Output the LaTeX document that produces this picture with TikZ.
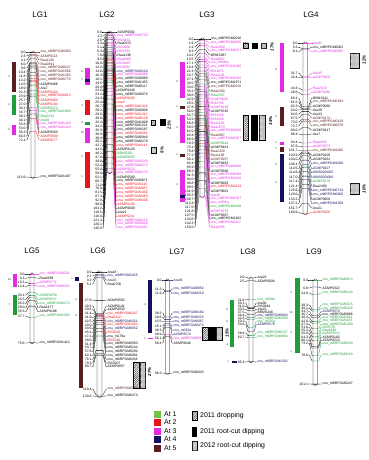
\documentclass[tikz,border=0pt]{standalone}
\usepackage{fontspec}
\setmainfont{Liberation Sans}
\usetikzlibrary{patterns.meta}

\definecolor{atone}{HTML}{1E9E3A}
\definecolor{atonel}{HTML}{77C043}
\definecolor{attwo}{HTML}{E8141B}
\definecolor{atthree}{HTML}{E22AE2}
\definecolor{atfour}{HTML}{12125E}
\definecolor{atfive}{HTML}{5A1E1E}
\colorlet{a1}{atone}
\colorlet{a2}{attwo}
\colorlet{a3}{atthree}
\colorlet{a4}{atfour}
\colorlet{a5}{atfive}
\colorlet{k}{black}

\newcommand\cnb{cnu\_mBRPGM}
\newcommand\cnm{cnu\_m}

\tikzset{
  mk/.style={font=\fontsize{3.4}{3.4}\selectfont, inner sep=0pt, anchor=west},
  cmpos/.style={font=\fontsize{3.4}{3.4}\selectfont, inner sep=0pt, anchor=east},
  fan/.style={line width=0.28pt},
  chrom/.style={draw, fill=white, line width=0.35pt, rounded corners=1.5pt},
  lgtitle/.style={font=\fontsize{8}{8}\selectfont},
  qnum/.style={font=\fontsize{2.6}{2.6}\selectfont, inner sep=0pt},
  qlab/.style={font=\fontsize{4.4}{4.4}\selectfont\bfseries\itshape, inner sep=0pt, rotate=90},
  leg/.style={font=\fontsize{6.9}{6.9}\selectfont, inner sep=0pt, anchor=west},
  hatchbox/.style={draw, line width=0.3pt, pattern={Lines[angle=45,distance=1.5pt,line width=0.35pt]}},
  solidbox/.style={draw, line width=0.3pt, fill=black},
  dotbox/.style={draw, line width=0.3pt, fill=gray!55, postaction={pattern={Dots[distance=1.2pt,radius=0.28pt]}, pattern color=white}}
}

% bar left, bar width, top, px per cM, fan width
\newcommand\lgsetup[5]{\gdef\bx{#1}\gdef\bw{#2}\gdef\btop{#3}\gdef\bsc{#4}\gdef\bfan{#5}}
\newcommand\chrombar[1]{\draw[chrom] (\bx,\btop-1) rectangle ++(\bw,#1*\bsc+2);}
\newcounter{mk}
% first label y, label step, list pos/name/colour
\newcommand\markers[3]{%
  \foreach \p/\m/\c [count=\i from 0] in {#3}{%
    \stepcounter{mk}%
    \pgfmathsetmacro\ty{\btop+\p*\bsc}%
    \pgfmathsetmacro\ly{#1+\i*#2}%
    \node[mk,text=\c] (m\themk) at ({\bx+\bw+\bfan+0.3},\ly) {\m};
    \node[cmpos] (p\themk) at ({\bx-\bfan-0.3},\ly) {\p};
    \draw[fan,color=\c] (\bx,\ty) -- ++(\bw,0) -- ++(1,0) -- ({\bx+\bw+\bfan-1},\ly) -- (m\themk.west);
    \draw[fan] (\bx,\ty) -- ++(-1,0) -- ({\bx-\bfan+1},\ly) -- (p\themk.east);
  }}

\begin{document}
\begin{tikzpicture}[x=1pt,y=-1pt]
\useasboundingbox (0,0) rectangle (368,460);

% titles
\node[lgtitle] (t1) at (40,15) {LG1};
\node[lgtitle] (t2) at (107,15) {LG2};
\node[lgtitle] (t3) at (207,15) {LG3};
\node[lgtitle] (t4) at (311,15) {LG4};
\node[lgtitle] (t5) at (32,251) {LG5};
\node[lgtitle] (t6) at (98,251) {LG6};
\node[lgtitle] (t7) at (177,252) {LG7};
\node[lgtitle] (t8) at (248,252) {LG8};
\node[lgtitle] (t9) at (314,252) {LG9};

% LG1
\lgsetup{31}{4}{52}{1.1}{5}
\chrombar{113.9}
\markers{52}{4}{0.0/\cnb0360/a5, 2.3/ACMP0113/a5, 3.1/Raa1136/a5, 6.0/Raa0691/a5, 9.6/\cnb0247/a5, 10.4/\cnb1566/a5, 11.8/\cnb1283/a5, 13.2/\cnb0770/a5, 14.5/ACMP0466/k, 18.9/Ara7/k, 21.3/ACMP0163/a2, 23.9/\cnb0613/a2, 25.7/ACMP0460/a2, 27.0/ACMP0184/a2, 30.1/ACMP0474/a1, 34.7/\cnb1069/a1, 38.2/Raa0222/a1, 40.1/Ara91/a1, 50.3/\cnb1423/a3, 53.0/\cnb1224/a3, 56.3/ACMP0563/k, 60.3/ACMP0589/a2, 72.1/ACMP0277/a2}
\markers{177}{4}{113.9/\cnb1487/k}
\fill[atfive] (12,62) rectangle (16,92);
\fill[atone] (12,95) rectangle (16,115);
\fill[atthree] (12,125) rectangle (16,135);
\node[qnum] (n11) at (9,77) {4};
\node[qnum] (n12) at (9,105) {2};
\node[qnum] (n13) at (9,130) {6};

% LG2
\lgsetup{107.5}{4.5}{32}{1.08}{5}
\chrombar{130.0}
\markers{32}{3.92}{0.0/ACMP0582/k, 1.2/\cnb0700/a3, 2.5/RI33451/a3, 3.3/Raa0972/k, 5.1/RI33460/a3, 6.4/RI32782/a3, 7.0/Raa1136/k, 9.5/Raa0905/a3, 10.8/RI33445/a3, 12.2/RI33562/a3, 14.6/\cnb0120/a4, 16.3/\cnb0086/a3, 18.1/\cnb0990/k, 19.5/\cnb1455/k, 20.4/\cnb0117/k, 22.0/ACMP0449/k, 23.1/\cnb0076/k, 24.3/ACMP0190/a2, 25.4/Ara2/a2, 26.7/\cnb1342/a2, 28.2/\cnb0006/k, 29.0/\cnb1211/a2, 30.8/\cnb0129/a2, 32.4/\cnb1008/k, 34.2/\cnb1221/k, 35.3/\cnb0187/k, 36.9/\cnb0561/a2, 38.4/\cnb0940/k, 40.1/\cnb0278/k, 42.7/\cnb1143/a2, 44.5/ACMP0120/k, 46.2/BRMS201/a1, 47.0/ACMP0603/a1, 49.8/\cnb0243/a3, 52.4/\cnb0275/a3, 55.0/ACMP0513/a3, 58.6/\cnb0173/a3, 62.1/ACMP0580/k, 66.7/\cnb0871/k, 71.2/\cnb1115/a2, 76.0/\cnb0057/a2, 81.5/\cnb1030/a2, 87.3/\cnb0360/a2, 92.8/\cnb0306/a2, 98.6/ACMP0100/a2, 104.2/ACMP0609/k, 110.5/Ara21/k, 116.0/ACMP0211/a2, 121.3/\cnb0132/a3, 126.1/\cnb0016/a3, 130.0/\cnb1183/a3}
\fill[atthree] (85,68) rectangle (90,85);
\fill[atfour] (85,79) rectangle (90,82);
\fill[attwo] (85,100) rectangle (90,115);
\fill[atone] (85,122) rectangle (90,125);
\fill[atthree] (85,128) rectangle (90,143);
\fill[attwo] (85,152) rectangle (90,188);
\node[qnum] (n21) at (82,72) {5};
\node[qnum] (n22) at (82,80) {1};
\node[qnum] (n23) at (82,106) {3};
\node[qnum] (n24) at (82,123) {4};
\node[qnum] (n25) at (82,133) {10};
\node[qnum] (n26) at (82,157) {2};
\node[qnum] (n27) at (82,177) {1};
\draw[hatchbox] (151.5,120) rectangle (155.5,125.5);
\draw[solidbox] (160,119.5) rectangle (165,125.5);
\node[qlab] (q21) at (169,125) {21\%};
\draw[dotbox] (151.5,147) rectangle (156,153);
\node[qlab] (q22) at (162,150) {9\%};

% LG3
\lgsetup{200}{4.5}{39}{1.05}{6}
\chrombar{150.0}
\markers{39}{4}{0.0/\cnb0016/k, 1.6/\cnb0025/a3, 4.1/Raa1060/a3, 6.3/\cnb1027/a3, 10.2/BRMS087/k, 13.5/Raa0807/a3, 17.1/\cnm046a/a3, 19.4/\cnb1286/a3, 21.3/RI33075/a3, 24.7/Raa1145/a3, 27.1/\cnb1032/a3, 30.5/\cnb1971/k, 33.0/\cnb0318/a5, 35.2/Raa2260/a5, 38.6/Raa2207/a1, 42.9/ACMP0005/a3, 45.5/RI32765/a3, 47.8/ACMP0229/a3, 50.0/ACMP0745/k, 52.7/RI33150/a3, 54.2/RI33208/a3, 56.8/Raa1185/a3, 59.5/Raa2670/a3, 62.0/\cnb0106/a3, 64.4/Raa0067/a5, 66.9/\cnb0307/a3, 70.3/ACMP0644/a1, 73.1/ACMP0461/k, 75.8/Raa2429/a5, 77.2/Raa1188/a5, 80.1/ACMP0257/a5, 82.4/ACMP0463/k, 85.9/\cnb0400/a3, 88.2/ACMP0590/k, 91.3/\cnb0388/a3, 94.0/\cnb0240/a3, 96.8/ACMP0683/k, 99.5/\cnb0413/a2, 101.9/ACMP0681/k, 105.2/Ara20/a3, 108.7/\cnb0197/a3, 112.4/\cnm056a/a3, 117.0/\cnb0148/a1, 121.8/ACMP0373/a3, 127.5/ACMP0567/k, 134.6/\cnb1402/k, 142.3/\cnb0117/a3, 150.0/Raa0355/a3}
\fill[atthree] (180,62) rectangle (185,98);
\fill[atfive] (180,106) rectangle (185,109);
\fill[atthree] (180,115) rectangle (185,143);
\fill[atfive] (180,154) rectangle (185,157);
\fill[atthree] (180,170) rectangle (185,202);
\fill[atfour] (180,195) rectangle (185,198);
\node[qnum] (n31) at (177,82) {6};
\node[qnum] (n32) at (177,107) {1};
\node[qnum] (n33) at (177,128) {4};
\node[qnum] (n34) at (177,155) {1};
\node[qnum] (n35) at (177,185) {3};
\draw[hatchbox] (243,43) rectangle (248,48.5);
\draw[solidbox] (252.5,43) rectangle (257,48.5);
\draw[dotbox] (261.5,43) rectangle (266,48.5);
\node[qlab] (q31) at (272,47) {17\%};
\draw[hatchbox] (243,115) rectangle (248.5,140);
\draw[solidbox] (251,115) rectangle (257,140);
\draw[dotbox] (259,115) rectangle (265,140);
\node[qlab] (q32) at (270.5,121) {34\%};

% LG4
\lgsetup{303}{4.5}{43}{1.06}{5}
\chrombar{160.9}
\markers{43}{4.3}{0.0/Ara32/a3, 5.2/\cnb0062/k, 6.1/\cnb0050/a3}
\markers{73}{4.5}{31.7/Ara35/a3, 32.4/ACMP0003/a3}
\markers{88}{4.5}{44.3/Raa2419/a3, 48.8/ACMP0260/a3}
\markers{98}{4}{60.1/BRMS111/k, 61.5/\cnb0194/a5, 62.3/ACMP0060/k, 63.0/Ara28/k, 64.5/Ara23/k, 67.5/ACMP0174/a5, 72.0/\cnb0129/a5, 73.7/\cnb0078/a5, 80.0/ACMP0417/k, 86.4/Ara7/k}
\markers{142}{4.4}{94.4/Raa2032/a3, 97.8/ACMP0073/a3, 101.7/\cnb1190/a5, 102.9/ACMP0105/k, 104.0/ACMP0261/k, 106.4/\cnb1008/a4, 110.5/ACMP0427/a4, 114.8/KBrB020I005/a4, 117.0/KBrB020I006/a4, 117.4/ACMP0176/a1, 121.4/Raa2409/k, 125.6/\cnb0714/a4, 128.6/\cnb0966/a4, 133.2/ACMP0603/k, 137.2/\cnb1209/a4, 151.7/Ara21/k, 160.9/ACMP0205/a2}
\fill[atthree] (280,43) rectangle (284,92);
\fill[atfive] (280,107) rectangle (284,126);
\fill[atthree] (280,142) rectangle (284,145);
\fill[atfive] (280,147) rectangle (284,152);
\fill[atfour] (280,154) rectangle (284,202);
\node[qnum] (n41) at (276,70) {5};
\node[qnum] (n42) at (276,117) {3};
\node[qnum] (n43) at (276,143) {1};
\node[qnum] (n44) at (276,149) {1};
\node[qnum] (n45) at (276,165) {3};
\node[qnum] (n46) at (276,183) {4};
\draw[dotbox] (350,53) rectangle (359,68);
\node[qlab] (q41) at (364,60) {12\%};
\draw[dotbox] (350,183) rectangle (359,194);
\node[qlab] (q42) at (364,189) {10\%};

% LG5
\lgsetup{30}{4}{274}{0.91}{5}
\chrombar{75.6}
\markers{274}{4.2}{0.0/\cnb0202/a3, 4.1/Raa2689/k, 10.3/ACMP0771/a3, 12.4/\cnb0323/a3}
\markers{295}{4.2}{20.1/ACMP0250/a1, 23.5/ACMP0227/a1, 26.2/\cnb0172/a1, 29.0/Raa2477/k, 35.3/ACMP0188/k, 47.7/\cnb1384/a1}
\markers{343}{4}{75.6/\cnb1414/k}
\fill[atthree] (13,274) rectangle (16.5,287);
\fill[atone] (13,295) rectangle (16.5,315);
\node[qnum] (n51) at (9.5,280) {10};
\node[qnum] (n52) at (9.5,305) {7};

% LG6
\lgsetup{97}{5}{272}{1.03}{5}
\chrombar{120.6}
\markers{272}{4}{0.0/Ara18/k, 2.1/\cnb1025/a4, 3.2/Ara15/a4, 5.1/Raa0706/k}
\markers{300}{4}{27.8/ACMP0582/k}
\markers{306}{3.8}{40.2/ACMP0141/k, 40.8/ACMP0050/k, 41.4/\cnb0115/a2, 41.9/Raa0112/a2, 42.5/\cnb0321/a4, 43.0/\cnb1004/a2, 43.6/\cnb0932/a4, 45.4/RI33020/a2, 47.2/\cnm179a/k, 49.0/RI33140/a2, 51.3/\cnb0583/k, 54.7/\cnb0144/k, 57.8/\cnb0292/k, 62.1/\cnb0091/k, 76.1/\cnb0345/k, 79.3/RI33207/k, 80.7/ACMP0057/k}
\markers{389}{4}{119.4/\cnb0360/a5}
\markers{396}{4}{120.6/\cnb0473/k}
\fill[atfour] (75,277) rectangle (78.5,281);
\fill[atfive] (79,283) rectangle (83,388);
\node[qnum] (n61) at (72,279) {1};
\node[qnum] (n62) at (76,300) {4};
\node[qnum] (n63) at (76,316) {5};
\draw[hatchbox] (133,362) rectangle (139.5,388);
\draw[dotbox] (140,362) rectangle (145.5,388);
\node[qlab] (q61) at (149.5,372) {27\%};

% LG7
\lgsetup{165.5}{4}{280}{0.97}{3.5}
\chrombar{96.2}
\markers{280}{4}{0.0/Ara36/a4}
\markers{289}{4.5}{11.2/\cnb0850/a4, 11.9/\cnb0210/a4}
\markers{313}{4.3}{38.2/\cnb0160/a4, 40.6/\cnb0223/a4, 42.5/\cnb0067/a4, 45.1/\cnb0470/a4, 46.3/\cnm032a/a4, 48.9/ACMP0574/a4, 56.1/\cnb0557/a3, 58.4/ACMP0046/k}
\markers{373}{4}{96.2/\cnb0045/k}
\fill[atfour] (148,280) rectangle (152,333);
\fill[atthree] (148,337.5) rectangle (153,339);
\node[qnum] (n71) at (145,305) {3};
\node[qnum] (n72) at (145,338.5) {1};
\draw[hatchbox] (202,327) rectangle (208,340);
\draw[solidbox] (209,327) rectangle (215,340);
\draw[dotbox] (216,327) rectangle (222,340);
\node[qlab] (q71) at (227,333) {15\%};

% LG8
\lgsetup{249}{4}{278}{0.98}{4}
\chrombar{85.4}
\markers{277}{4.5}{0.0/Ara22/k, 2.5/ACMP0094/k}
\markers{300}{3.1}{21.6/\cnm068a/a1, 30.1/Ara30/k, 31.0/RI33944/k, 33.5/Ara21/k, 37.5/BRMS246/k, 40.4/\cnb0843/a4, 42.3/\cnb1050/a1, 50.2/\cnm035a/a1, 54.6/ACMP0578/a4}
\markers{333}{4}{58.8/\cnb0137/a1, 60.7/\cnb0694/a1}
\markers{362}{4}{85.4/\cnb1302/a4}
\fill[atone] (230,300) rectangle (234,347);
\fill[atfour] (232,361.3) rectangle (237,363);
\node[qnum] (n81) at (227,310) {8};
\node[qnum] (n82) at (227,322) {9};
\node[qnum] (n83) at (227,345) {4};
\node[qnum] (n84) at (228,362) {1};

% LG9
\lgsetup{313}{4.5}{280}{1.03}{4.5}
\chrombar{101.1}
\markers{280}{4}{0.0/\cnb0074/a1}
\markers{288}{4}{6.8/ACMP0322/k}
\markers{293}{4}{14.0/\cnb0140/a1}
\markers{305}{3.2}{28.3/\cnb0576/a1, 30.1/\cnb0226/a1, 34.7/ACMP0570/a4, 36.7/\cnb0086/k, 40.4/\cnb1162/a1, 42.0/\cnb1185/a1, 47.3/\cnb1290/a1, 51.6/RI33735/a1, 55.2/Raa2848/a1, 58.9/ACMP0513/a1, 64.3/ACMP0182/k, 66.1/ACMP0213/k, 73.2/\cnb0229/a1}
\markers{355}{4}{78.6/\cnb0219/a1}
\markers{384}{4}{101.1/\cnb0247/k}
\fill[atone] (295,278) rectangle (300,353);
\node[qnum] (n91) at (291,293) {4};
\node[qnum] (n92) at (291,313) {10};
\node[qnum] (n93) at (291,333) {4};
\node[qnum] (n94) at (291,352) {1};

% legend
\foreach \c/\t [count=\i from 0] in {atonel/At 1, attwo/At 2, atthree/At 3, atfour/At 4, atfive/At 5}{
  \fill[fill=\c] (154,{410.5+\i*8.5}) rectangle ++(7,7);
  \node[leg] (leg\i) at (164,{414+\i*8.5}) {\t};
}
\draw[hatchbox] (192,411) rectangle (197,420);
\node[leg] (lh) at (200,415.5) {2011 dropping};
\draw[solidbox] (192,427) rectangle (196.5,436);
\node[leg] (ls) at (200,432) {2011 root-cut dipping};
\draw[dotbox] (192,441) rectangle (197,450);
\node[leg] (ld) at (200,445.5) {2012 root-cut dipping};
\end{tikzpicture}
\end{document}
